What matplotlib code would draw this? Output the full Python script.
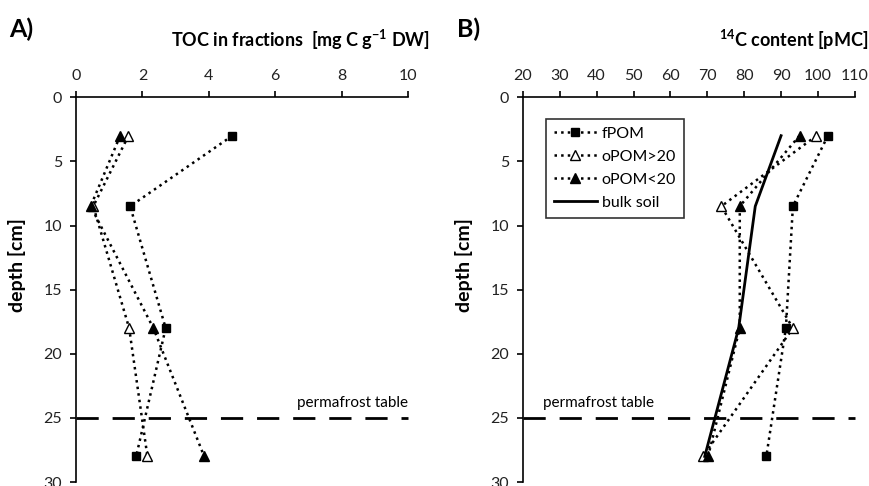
import matplotlib
matplotlib.use("Agg")
import matplotlib.pyplot as plt

plt.rcParams['font.family'] = ['Lato', 'DejaVu Sans']

# Tiefen der Proben [cm]
depth = [3, 8.5, 18, 28]
permafrost = 25

# A) TOC in fractions
toc_fpom = [4.71, 1.63, 2.70, 1.81]
toc_opom_gt20 = [1.58, 0.52, 1.60, 2.15]
toc_opom_lt20 = [1.33, 0.44, 2.33, 3.86]

# B) 14C content
c14_fpom = [102.7, 93.2, 91.3, 86.0]
c14_opom_gt20 = [99.6, 73.8, 93.2, 68.8]
c14_opom_lt20 = [95.0, 78.8, 78.8, 70.2]
c14_bulk = [90.0, 83.0, 78.5, 69.3]

fig = plt.figure(figsize=(8.7, 4.86), dpi=100)
ax1 = fig.add_axes([0.0874, 0.008, 0.3816, 0.792])
ax2 = fig.add_axes([0.601, 0.008, 0.3816, 0.792])

dot = dict(color='black', linestyle=':', linewidth=1.8)

def style(ax, xlim, xticks, label_x):
    ax.set_xlim(*xlim)
    ax.set_ylim(30, 0)
    ax.set_xticks(xticks)
    ax.set_yticks(range(0, 31, 5))
    ax.xaxis.tick_top()
    ax.spines['right'].set_visible(False)
    ax.spines['bottom'].set_visible(False)
    ax.spines['left'].set_linewidth(1.2)
    ax.spines['top'].set_linewidth(1.2)
    ax.tick_params(labelsize=11.5, width=1.2, length=4, pad=6, labelcolor='#222222')
    ax.set_ylabel('depth [cm]', fontsize=14, fontweight='bold')
    ax.yaxis.set_label_coords(label_x, 0.565)
    ax.axhline(permafrost, color='black', linestyle=(0, (8, 5)), linewidth=2, clip_on=False)

# Panel A
ax1.plot(toc_fpom, depth, marker='s', ms=6, mfc='black', mec='black', **dot)
ax1.plot(toc_opom_gt20, depth, marker='^', ms=7, mfc='white', mec='black', **dot)
ax1.plot(toc_opom_lt20, depth, marker='^', ms=7, mfc='black', mec='black', **dot)
style(ax1, (0, 10), range(0, 11, 2), -0.15)
ax1.text(10, 24.4, 'permafrost table', ha='right', va='bottom', fontsize=11)
fig.text(0.494, 0.918, r'TOC in fractions  [mg C g$^{\mathregular{-1}}$ DW]',
         ha='right', va='center', fontsize=13, fontweight='bold')
fig.text(0.010, 0.94, 'A)', ha='left', va='center', fontsize=18, fontweight='bold')

# Panel B
ax2.plot(c14_fpom, depth, marker='s', ms=6, mfc='black', mec='black', label='fPOM', **dot)
ax2.plot(c14_opom_gt20, depth, marker='^', ms=7, mfc='white', mec='black', label='oPOM>20', **dot)
ax2.plot(c14_opom_lt20, depth, marker='^', ms=7, mfc='black', mec='black', label='oPOM<20', **dot)
ax2.plot(c14_bulk, depth, color='black', linewidth=2, label='bulk soil')
style(ax2, (20, 110), range(20, 111, 10), -0.15)
ax2.text(25.5, 24.4, 'permafrost table', ha='left', va='bottom', fontsize=11)
fig.text(0.998, 0.918, r'$^{\mathregular{14}}$C content [pMC]',
         ha='right', va='center', fontsize=13, fontweight='bold')
fig.text(0.525, 0.94, 'B)', ha='left', va='center', fontsize=18, fontweight='bold')

leg = ax2.legend(loc='upper left', bbox_to_anchor=(0.045, 0.965), frameon=True, fancybox=False,
                 edgecolor='black', fontsize=11.5, handlelength=2.7, labelspacing=0.55,
                 borderpad=0.5, handletextpad=0.3)
leg.get_frame().set_linewidth(1.2)

fig.savefig('out.png', dpi=100)
